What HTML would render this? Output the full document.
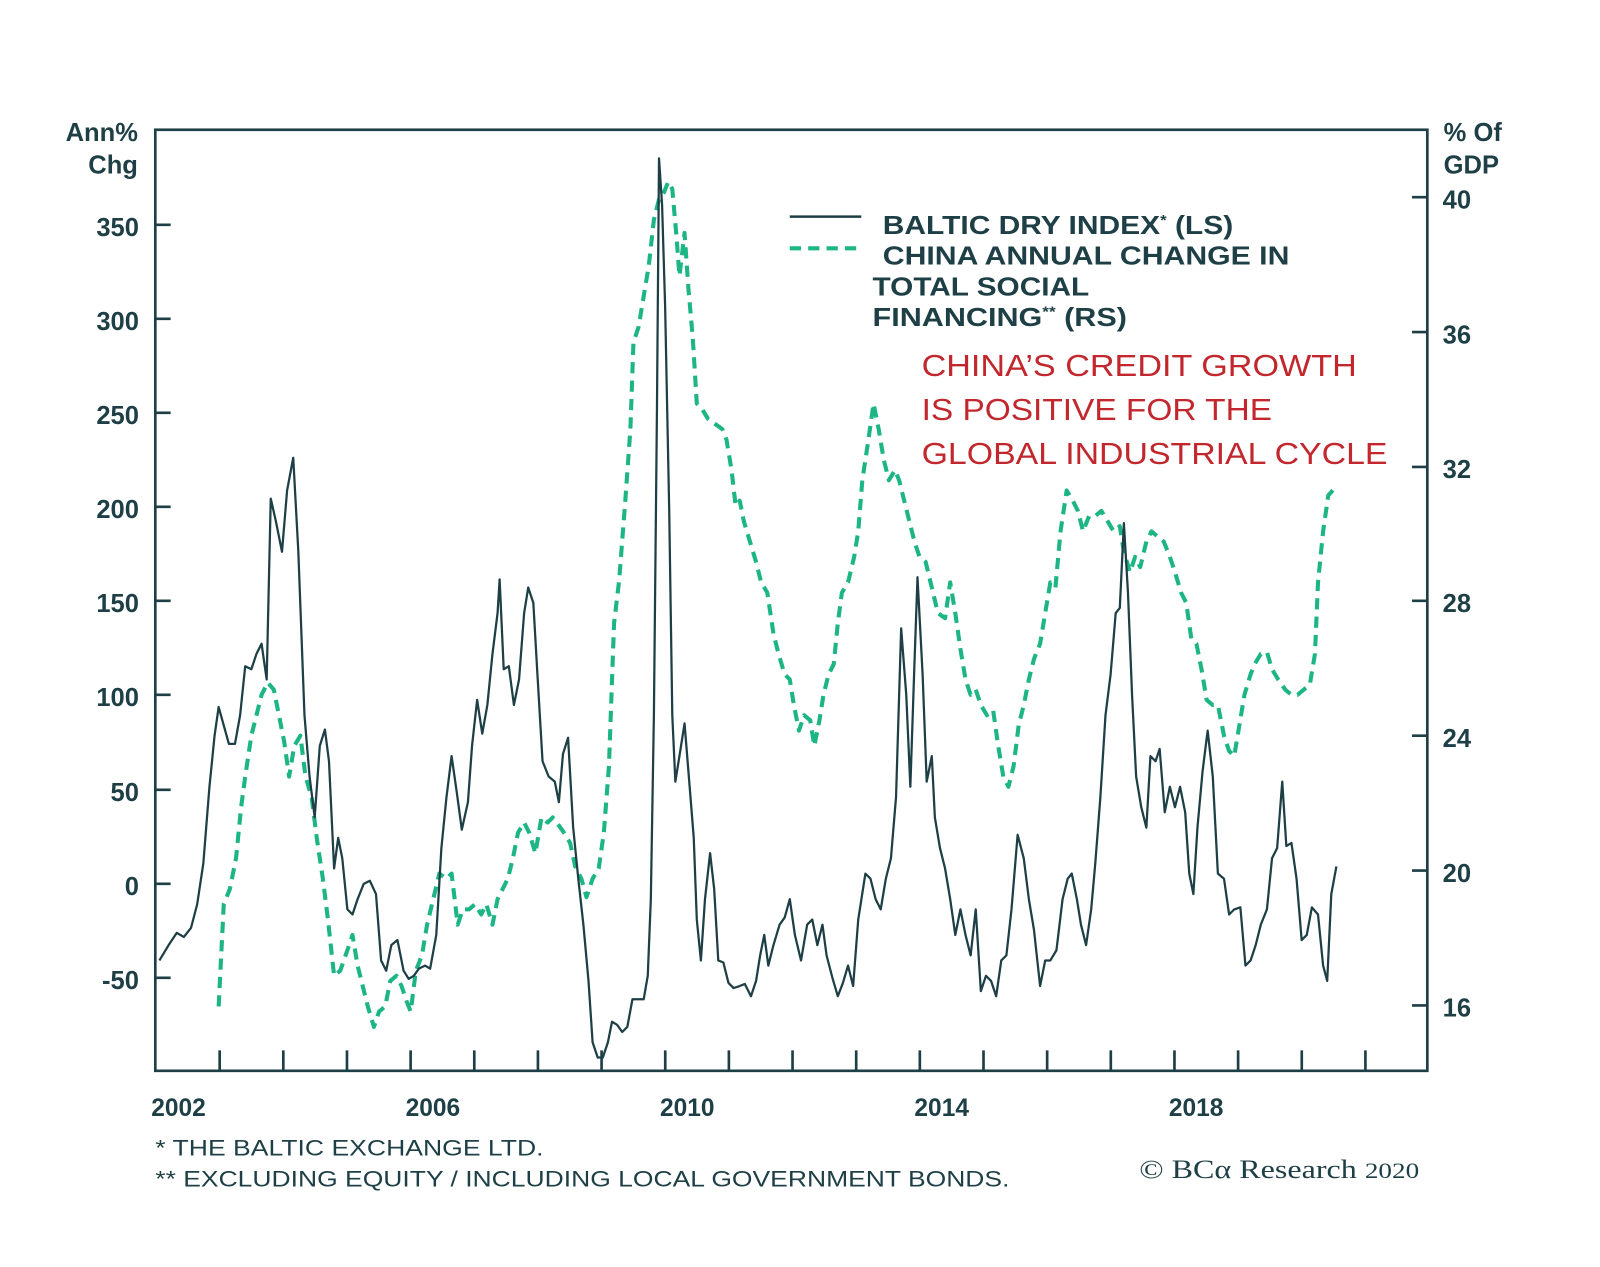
<!DOCTYPE html>
<html><head><meta charset="utf-8"><style>
html,body{margin:0;padding:0;background:#fff;}
svg{display:block;}
text{font-family:"Liberation Sans",sans-serif;font-weight:bold;fill:#1d3f45;}
</style></head><body>
<svg width="1600" height="1267" viewBox="0 0 1566 1240" preserveAspectRatio="none" xmlns="http://www.w3.org/2000/svg">
<rect width="1566" height="1240" fill="#fff"/>
<g stroke="#1d3f45" stroke-width="2.6" fill="none">
<rect x="152" y="127" width="1245" height="921"/>
<path d="M152 220h15M152 312h15M152 404h15M152 496h15M152 588h15M152 680h15M152 773h15M152 865h15M152 957h15"/>
<path d="M1382 193h15M1382 325h15M1382 457h15M1382 588h15M1382 720h15M1382 852h15M1382 984h15"/>
<path d="M215 1028v20M277.3 1028v20M339.6 1028v20M401.9 1028v20M464.2 1028v20M526.5 1028v20M588.8 1028v20M651.1 1028v20M713.4 1028v20M775.7 1028v20M838 1028v20M900.3 1028v20M962.6 1028v20M1024.9 1028v20M1087.2 1028v20M1149.5 1028v20M1211.8 1028v20M1274.1 1028v20M1336.4 1028v20"/>
</g>
<g font-size="25" text-anchor="end">
<text x="135" y="138">Ann%</text><text x="135" y="170">Chg</text>
<text x="136" y="231">350</text><text x="136" y="323">300</text><text x="136" y="415">250</text><text x="136" y="507">200</text><text x="136" y="599">150</text><text x="136" y="691">100</text><text x="136" y="784">50</text><text x="136" y="876">0</text><text x="136" y="968">-50</text>
</g>
<g font-size="25">
<text x="1413" y="138">% Of</text><text x="1413" y="170">GDP</text>
<text x="1412" y="204">40</text><text x="1412" y="336">36</text><text x="1412" y="468">32</text><text x="1412" y="599">28</text><text x="1412" y="731">24</text><text x="1412" y="863">20</text><text x="1412" y="995">16</text>
<text x="148" y="1092" font-size="24">2002</text><text x="397" y="1092" font-size="24">2006</text><text x="646" y="1092" font-size="24">2010</text><text x="895" y="1092" font-size="24">2014</text><text x="1144" y="1092" font-size="24">2018</text>
</g>
<g font-size="25">
<text x="864" y="229" textLength="343" lengthAdjust="spacingAndGlyphs">BALTIC DRY INDEX<tspan font-size="14" dy="-9">*</tspan><tspan dy="9"> (LS)</tspan></text>
<text x="864" y="259" textLength="398" lengthAdjust="spacingAndGlyphs">CHINA ANNUAL CHANGE IN</text>
<text x="854" y="289" textLength="212" lengthAdjust="spacingAndGlyphs">TOTAL SOCIAL</text>
<text x="854" y="319" textLength="249" lengthAdjust="spacingAndGlyphs">FINANCING<tspan font-size="14" dy="-9">**</tspan><tspan dy="9"> (RS)</tspan></text>
</g>
<path d="M773 212h70" stroke="#1d3f45" stroke-width="2.4"/>
<path d="M773 243h70" stroke="#1db584" stroke-width="4" stroke-dasharray="11 7"/>
<g font-size="30">
<text x="902" y="368" textLength="426" lengthAdjust="spacingAndGlyphs" style="fill:#c1272d;font-weight:normal">CHINA’S CREDIT GROWTH</text>
<text x="902" y="411" textLength="343" lengthAdjust="spacingAndGlyphs" style="fill:#c1272d;font-weight:normal">IS POSITIVE FOR THE</text>
<text x="902" y="454" textLength="456" lengthAdjust="spacingAndGlyphs" style="fill:#c1272d;font-weight:normal">GLOBAL INDUSTRIAL CYCLE</text>
</g>
<g font-size="22">
<text x="152" y="1131" style="font-weight:normal" textLength="380" lengthAdjust="spacingAndGlyphs">*  THE BALTIC EXCHANGE LTD.</text>
<text x="152" y="1161" style="font-weight:normal" textLength="836" lengthAdjust="spacingAndGlyphs">** EXCLUDING EQUITY / INCLUDING LOCAL GOVERNMENT BONDS.</text>
</g>
<text x="1115" y="1153" font-size="26" textLength="274" lengthAdjust="spacingAndGlyphs" style="font-family:'Liberation Serif',serif;font-weight:normal">© BCα Research <tspan font-size="22">2020</tspan></text>
<polyline fill="none" stroke="#1db584" stroke-width="4" stroke-dasharray="11 7" stroke-linejoin="round" points="214,985 219,885 225,870 231,840 236,790 240,760 246,720 251,700 256,680 262,668 268,675 273,700 278,725 283,760 288,730 294,720 299,760 305,780 310,820 316,860 321,900 327,955 333,950 340,930 345,915 350,945 355,965 360,985 366,1005 371,990 377,985 382,960 388,955 393,965 398,980 402,990 407,950 413,935 418,905 424,880 430,855 437,860 442,855 448,905 453,890 459,890 465,885 471,895 476,885 482,905 487,880 492,870 497,860 502,840 507,815 513,805 518,815 524,835 530,800 536,805 541,800 547,808 552,815 558,825 563,848 569,860 574,878 580,860 586,850 591,815 596,750 601,610 606,568 612,490 617,420 620,335 625,320 630,290 635,260 640,215 645,195 650,188 654,178 658,185 662,230 665,270 670,228 674,285 678,330 682,395 687,400 693,410 700,415 707,420 711,430 716,460 720,495 724,490 728,510 734,530 740,550 745,570 751,580 757,620 762,640 768,660 773,665 777,690 782,715 787,700 793,705 797,730 802,705 806,680 811,660 816,650 820,610 824,580 830,570 836,545 840,520 844,470 850,430 855,395 860,420 865,450 870,470 876,460 880,470 885,490 890,510 895,530 900,545 906,550 912,575 918,600 925,605 930,570 935,600 940,635 945,665 950,680 955,675 960,690 966,700 972,695 977,730 982,760 987,770 992,750 997,710 1002,690 1007,665 1012,645 1018,630 1023,600 1028,570 1033,575 1038,520 1044,480 1050,490 1055,500 1060,520 1066,505 1072,505 1078,500 1084,510 1090,520 1096,515 1100,540 1106,560 1111,545 1116,555 1122,530 1127,520 1133,525 1139,530 1145,545 1150,560 1156,580 1161,590 1166,625 1171,630 1176,655 1181,685 1187,690 1192,690 1198,720 1203,735 1208,740 1213,710 1218,680 1224,660 1228,650 1234,640 1240,638 1245,655 1251,665 1258,675 1264,680 1270,680 1276,675 1282,670 1287,640 1290,570 1295,520 1300,485 1306,478"/>
<polyline fill="none" stroke="#1d3f45" stroke-width="2.2" stroke-linejoin="round" points="156,940 165,925 173,913 180,917 187,908 193,885 199,845 205,770 210,720 214,692 219,710 224,728 230,728 235,700 240,652 246,655 251,640 256,630 261,665 265,488 270,510 276,540 281,480 287,448 292,540 298,700 303,760 308,800 313,730 318,714 322,745 327,850 331,820 335,840 340,890 345,895 350,880 356,865 362,862 368,875 373,940 378,950 383,925 389,920 395,950 400,958 405,955 410,948 416,945 421,948 427,915 432,830 437,780 442,740 447,775 452,812 458,785 462,730 467,685 472,718 477,690 482,640 487,600 489,567 493,655 498,652 503,690 508,665 513,600 517,575 522,590 526,660 531,745 537,760 543,765 547,785 551,738 556,722 561,810 566,860 571,905 576,960 580,1020 585,1035 590,1035 595,1020 599,1000 604,1003 609,1010 614,1005 619,978 625,978 630,978 634,955 637,880 640,700 643,400 645,155 648,200 651,300 655,500 658,700 661,765 665,740 670,708 675,770 679,820 682,900 686,940 690,880 695,835 699,870 703,940 708,942 713,962 718,967 724,965 729,963 735,975 740,960 744,935 748,915 752,945 757,925 763,905 768,898 773,880 778,915 784,940 790,905 795,900 800,925 805,905 809,935 815,958 820,975 825,962 830,945 835,965 840,900 847,855 852,860 857,880 862,890 867,860 872,840 877,780 882,615 887,680 891,770 895,650 898,565 903,660 907,765 912,740 915,800 920,830 925,850 930,880 935,915 940,890 945,915 950,935 955,890 960,970 965,955 970,960 975,975 980,940 985,935 990,890 996,817 1002,840 1007,880 1012,910 1018,965 1023,940 1028,940 1034,930 1040,880 1045,860 1049,855 1054,880 1058,905 1063,925 1068,890 1072,845 1077,780 1082,700 1087,660 1092,600 1096,595 1100,512 1104,580 1108,680 1112,760 1117,790 1122,810 1126,740 1131,745 1135,733 1140,795 1145,770 1150,790 1155,770 1160,795 1164,855 1168,875 1172,810 1177,755 1182,715 1187,760 1192,855 1198,860 1203,895 1208,890 1214,888 1219,945 1224,940 1229,925 1234,905 1240,890 1245,840 1250,830 1255,765 1259,828 1264,825 1269,860 1274,920 1279,915 1284,888 1290,895 1295,945 1299,960 1303,875 1308,848"/>
</svg>
</body></html>
